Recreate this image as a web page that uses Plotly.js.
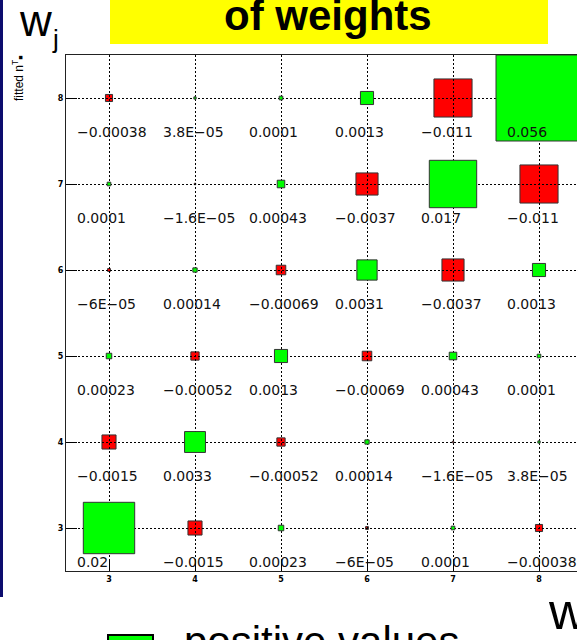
<!DOCTYPE html>
<html>
<head>
<meta charset="utf-8">
<script src="https://cdn.plot.ly/plotly-3.0.1.min.js"></script>
<style>html,body{margin:0;padding:0;background:#fff;overflow:hidden}</style>
</head>
<body>
<div id="chart" style="width:577px;height:640px"></div>
<script>
// categories (w_i along x, w_j along y)
const xCats = [3, 4, 5, 6, 7, 8];
const yCats = [3, 4, 5, 6, 7, 8];
// correlation-of-weights values, one array per row (w_j)
const row3 = [0.02, -0.0015, 0.00023, -6e-5, 0.0001, -0.00038];
const row4 = [-0.0015, 0.0033, -0.00052, 0.00014, -1.6e-5, 3.8e-5];
const row5 = [0.00023, -0.00052, 0.0013, -0.00069, 0.00043, 0.0001];
const row6 = [-6e-5, 0.00014, -0.00069, 0.0031, -0.0037, 0.0013];
const row7 = [0.0001, -1.6e-5, 0.00043, -0.0037, 0.017, -0.011];
const row8 = [-0.00038, 3.8e-5, 0.0001, 0.0013, -0.011, 0.056];
const rows = [row3, row4, row5, row6, row7, row8];
const titleText = 'of weights';
const legendText = 'positive values';

function fmt(v) {
  const a = Math.abs(v);
  let s;
  if (a < 1e-4) {
    let [m, e] = a.toExponential(1).split('e');
    m = m.replace(/\.0$/, '');
    const ev = parseInt(e, 10);
    s = m + 'E' + (ev < 0 ? '\u2212' : '+') + String(Math.abs(ev)).padStart(2, '0');
  } else {
    s = String(Number(a.toPrecision(2)));
  }
  return (v < 0 ? '\u2212' : '') + s;
}

const vmax = Math.max(...rows.flat().map(Math.abs));
const shapes = [];
const annotations = [];

// page pixel -> paper coordinates (plot area: x 66..577, y 55..571)
const PX = X => (X - 66) / 511;
const PY = Y => (571 - Y) / 516;

// decoration: navy side strip and yellow title band
shapes.push({type: 'rect', xref: 'paper', yref: 'paper', x0: PX(0), x1: PX(3), y0: PY(597), y1: PY(0),
  fillcolor: '#0c0c6e', line: {width: 0}, layer: 'above'});
shapes.push({type: 'rect', xref: 'paper', yref: 'paper', x0: PX(110), x1: PX(548), y0: PY(44), y1: PY(0),
  fillcolor: '#ffff00', line: {width: 0}, layer: 'above'});

rows.forEach((row, j) => {
  row.forEach((v, i) => {
    const x = xCats[i], y = yCats[j];
    const h = 0.5 * Math.sqrt(Math.abs(v) / vmax);
    shapes.push({
      type: 'rect', xref: 'x', yref: 'y',
      x0: x - h, x1: x + h, y0: y - h, y1: y + h,
      fillcolor: v > 0 ? '#00ff00' : '#ff0000',
      line: {color: '#333333', width: 1},
      layer: v > 0 ? 'above' : 'below'
    });
    annotations.push({
      xref: 'x', yref: 'y', x: x - 0.4, y: y - 0.4,
      text: fmt(v), showarrow: false, xanchor: 'left', yanchor: 'middle',
      font: {family: 'DejaVu Sans', size: 14, color: '#111'}
    });
  });
});

// legend box
shapes.push({type: 'rect', xref: 'paper', yref: 'paper', x0: PX(108), x1: PX(153), y0: PY(668), y1: PY(635),
  fillcolor: '#00ff00', line: {color: '#000', width: 2}, layer: 'above'});

const big = 'Liberation Sans, Arial, sans-serif';
annotations.push({xref: 'paper', yref: 'paper', x: PX(328), y: PY(15), text: '<b>' + titleText + '</b>',
  showarrow: false, xanchor: 'center', yanchor: 'middle', font: {family: big, size: 42, color: '#000'}});
annotations.push({xref: 'paper', yref: 'paper', x: PX(17), y: PY(20), text: 'w',
  showarrow: false, xanchor: 'left', yanchor: 'middle', font: {family: big, size: 44, color: '#000'}});
annotations.push({xref: 'paper', yref: 'paper', x: PX(50), y: PY(39), text: 'j',
  showarrow: false, xanchor: 'left', yanchor: 'middle', font: {family: big, size: 26, color: '#000'}});
annotations.push({xref: 'paper', yref: 'paper', x: PX(18), y: PY(79),
  text: 'fitted n<sup>T</sup><span style="font-size:7px">\u25A0</span>',
  showarrow: false, textangle: -90, xanchor: 'center', yanchor: 'middle', font: {family: big, size: 12, color: '#000'}});
annotations.push({xref: 'paper', yref: 'paper', x: PX(182), y: PY(641), text: legendText,
  showarrow: false, xanchor: 'left', yanchor: 'middle', font: {family: big, size: 42, color: '#000'}});
annotations.push({xref: 'paper', yref: 'paper', x: PX(546), y: PY(611), text: 'w',
  showarrow: false, xanchor: 'left', yanchor: 'middle', font: {family: big, size: 52, color: '#000'}});

const trace = {
  type: 'scatter', mode: 'markers',
  x: rows.flatMap(r => xCats), y: rows.flatMap((r, j) => r.map(() => yCats[j])),
  marker: {opacity: 0}, hoverinfo: 'skip', showlegend: false
};

const axisCommon = {
  showgrid: true, gridcolor: '#000', gridwidth: 1, griddash: '2px,2px',
  zeroline: false, showline: true, linecolor: '#222', linewidth: 1,
  ticks: 'inside', ticklen: 11, tickcolor: '#000', tickwidth: 1,
  tickfont: {family: 'DejaVu Sans', size: 8, color: '#000', weight: 'bold'},
  tickmode: 'array', fixedrange: true
};

const layout = {
  width: 577, height: 640,
  margin: {l: 66, r: 0, t: 55, b: 69, pad: 0},
  paper_bgcolor: '#fff', plot_bgcolor: '#fff',
  showlegend: false,
  xaxis: Object.assign({}, axisCommon, {range: [2.5, 2.5 + 511 / 86], tickvals: xCats, ticktext: xCats.map(String), mirror: true}),
  yaxis: Object.assign({}, axisCommon, {range: [2.5, 8.5], tickvals: yCats, ticktext: yCats.map(String), mirror: false}),
  shapes: shapes,
  annotations: annotations
};

Plotly.newPlot('chart', [trace], layout, {staticPlot: true, displayModeBar: false});
</script>
</body>
</html>
